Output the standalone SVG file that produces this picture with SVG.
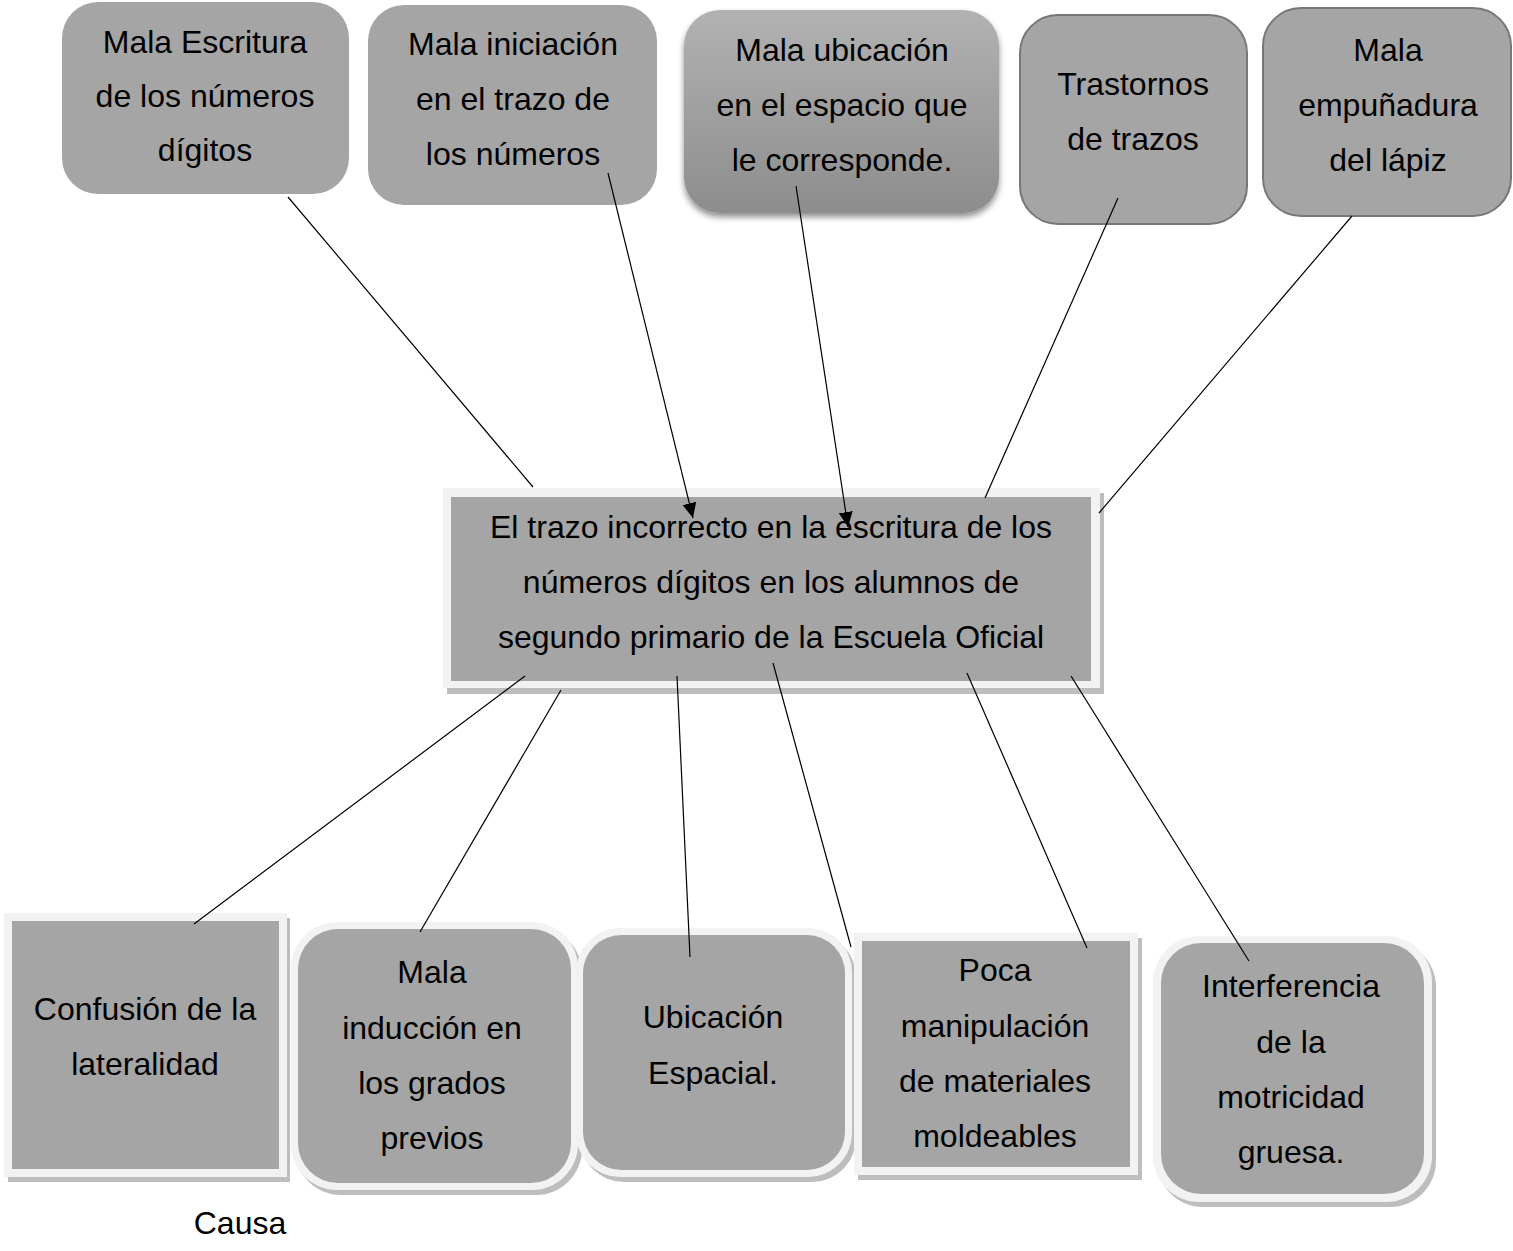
<svg xmlns="http://www.w3.org/2000/svg" width="1513" height="1251" viewBox="0 0 1513 1251">
<style>
text{font-family:"Liberation Sans",Arial,sans-serif;font-size:32px;fill:#000;text-anchor:middle}
.f{fill:#a5a5a5}
.st{fill:#a5a5a5;stroke:#777;stroke-width:2}
.lt{fill:#f2f2f2}
.sh{fill:#bdbdbd}
.c{stroke:#000;stroke-width:1.2;fill:none}
</style>
<defs>
<linearGradient id="g3" x1="0" y1="0" x2="0" y2="1"><stop offset="0" stop-color="#b2b2b2"/><stop offset="1" stop-color="#8d8d8d"/></linearGradient>
<filter id="ds" x="-10%" y="-10%" width="120%" height="130%"><feDropShadow dx="0" dy="4" stdDeviation="3" flood-color="#000" flood-opacity="0.45"/></filter>
<marker id="ar" markerUnits="userSpaceOnUse" markerWidth="16" markerHeight="14" refX="15" refY="7" orient="auto"><path d="M0,0 L15,7 L0,14 Z" fill="#000"/></marker>
</defs>
<g id="top1"><rect class="f" x="62" y="2" width="287" height="192" rx="36"/><text x="205" y="53">Mala Escritura</text><text x="205" y="107">de los números</text><text x="205" y="161">dígitos</text></g>
<g id="top2"><rect class="f" x="368" y="5" width="289" height="200" rx="36"/><text x="513" y="55">Mala iniciación</text><text x="513" y="110">en el trazo de</text><text x="513" y="165">los números</text></g>
<g id="top3"><rect x="684" y="10" width="315" height="203" rx="36" fill="url(#g3)" filter="url(#ds)"/><text x="842" y="61">Mala ubicación</text><text x="842" y="116">en el espacio que</text><text x="842" y="171">le corresponde.</text></g>
<g id="top4"><rect class="st" x="1020" y="15" width="227" height="209" rx="38"/><text x="1133" y="95">Trastornos</text><text x="1133" y="150">de trazos</text></g>
<g id="top5"><rect class="st" x="1263" y="8" width="248" height="208" rx="38"/><text x="1388" y="61">Mala</text><text x="1388" y="116">empuñadura</text><text x="1388" y="171">del lápiz</text></g>
<g id="center"><rect class="sh" x="447" y="493" width="657" height="201"/><rect class="lt" x="443" y="488" width="657" height="200"/><rect class="f" x="451" y="497" width="640" height="184"/><text x="771" y="538">El trazo incorrecto en la escritura de los</text><text x="771" y="593">números dígitos en los alumnos de</text><text x="771" y="648">segundo primario de la Escuela Oficial</text></g>
<g id="b1"><rect class="sh" x="8" y="918" width="282" height="264"/><rect class="lt" x="4" y="913" width="283" height="264"/><rect class="f" x="12" y="921" width="267" height="248"/><text x="145" y="1020">Confusión de la</text><text x="145" y="1075">lateralidad</text></g>
<g id="b2"><rect class="sh" x="295" y="927" width="287" height="268" rx="46"/><rect class="lt" x="291" y="922" width="287" height="268" rx="46"/><rect class="f" x="298" y="929" width="273" height="254" rx="40"/><text x="432" y="983">Mala</text><text x="432" y="1039">inducción en</text><text x="432" y="1094">los grados</text><text x="432" y="1149">previos</text></g>
<g id="b3"><rect class="sh" x="580" y="933" width="276" height="249" rx="44"/><rect class="lt" x="576" y="928" width="276" height="249" rx="44"/><rect class="f" x="583" y="935" width="262" height="235" rx="38"/><text x="713" y="1028">Ubicación</text><text x="713" y="1084">Espacial.</text></g>
<g id="b4"><rect class="sh" x="858" y="938" width="284" height="242"/><rect class="lt" x="854" y="933" width="284" height="242"/><rect class="f" x="862" y="941" width="268" height="226"/><text x="995" y="981">Poca</text><text x="995" y="1037">manipulación</text><text x="995" y="1092">de materiales</text><text x="995" y="1147">moldeables</text></g>
<g id="b5"><rect class="sh" x="1157" y="941" width="279" height="266" rx="46"/><rect class="lt" x="1153" y="936" width="279" height="266" rx="46"/><rect class="f" x="1161" y="943" width="263" height="251" rx="40"/><text x="1291" y="997">Interferencia</text><text x="1291" y="1053">de la</text><text x="1291" y="1108">motricidad</text><text x="1291" y="1163">gruesa.</text></g>
<g id="connectors">
<line class="c" x1="288" y1="197" x2="533" y2="487"/>
<line class="c" x1="608" y1="173" x2="693" y2="518" marker-end="url(#ar)"/>
<line class="c" x1="796" y1="186" x2="848" y2="527" marker-end="url(#ar)"/>
<line class="c" x1="1118" y1="198" x2="985" y2="498"/>
<line class="c" x1="1352" y1="216" x2="1099" y2="513"/>
<line class="c" x1="525" y1="676" x2="194" y2="924"/>
<line class="c" x1="561" y1="690" x2="420" y2="932"/>
<line class="c" x1="677" y1="676" x2="690" y2="957"/>
<line class="c" x1="773" y1="663" x2="851" y2="947"/>
<line class="c" x1="967" y1="673" x2="1087" y2="948"/>
<line class="c" x1="1071" y1="676" x2="1249" y2="961"/>
</g>
<text x="240" y="1234">Causa</text>
</svg>
